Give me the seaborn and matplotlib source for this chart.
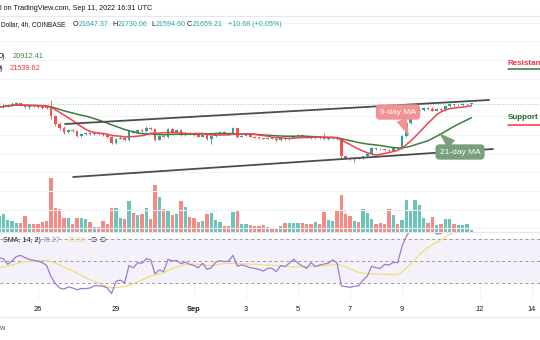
import numpy as np
import pandas as pd
import matplotlib
matplotlib.use("Agg")
import matplotlib.pyplot as plt
from matplotlib.lines import Line2D
from matplotlib import font_manager
import seaborn as sns

# ---------------- data ----------------
candle_start = "2022-08-24 12:00"
open_first = 21400.0
closes = [21480, 21560, 21600, 21650, 21700, 21600, 21480, 21560, 21520, 21480,
          21450, 21420, 21000, 20600, 20350, 20150, 20250, 20200, 19950, 20050,
          20100, 20050, 20080, 20020, 19980, 19900, 19550, 19800, 19850, 19720,
          20200, 20120, 20250, 20180, 20380, 20300, 19750, 19950, 19900, 20300,
          20150, 20250, 20000, 20100, 20050, 19980, 19900, 19980, 19800, 19950,
          20050, 20150, 20100, 20050, 20350, 19900, 19950, 19980, 19900, 19850,
          19820, 19800, 19840, 19800, 19720, 19820, 19780, 19850, 19950, 20000,
          19920, 19860, 19820, 19880, 19820, 19780, 19830, 19880, 19780, 18850,
          18780, 18720, 18760, 18740, 18850, 18980, 19300, 19250, 19220, 19180,
          19150, 19300, 19280, 19950, 20650, 21000, 21300, 21350, 21420, 21360,
          21300, 21380, 21320, 21550, 21640, 21580, 21610, 21630, 21647.37, 21659.21]
wick_up = [60, 80, 50, 120, 60, 40, 50, 40, 30, 50,
           40, 60, 420, 60, 80, 100, 80, 60, 70, 50,
           60, 40, 50, 40, 40, 50, 60, 40, 70, 50,
           60, 60, 50, 60, 70, 40, 60, 40, 60, 60,
           50, 40, 60, 40, 40, 30, 40, 40, 40, 40,
           40, 50, 40, 30, 90, 40, 40, 30, 40, 30,
           30, 30, 40, 30, 30, 50, 40, 40, 40, 50,
           30, 30, 30, 40, 30, 280, 40, 60, 40, 40,
           30, 30, 40, 30, 40, 50, 40, 40, 30, 40,
           40, 50, 40, 60, 60, 80, 60, 90, 60, 60,
           150, 40, 40, 40, 60, 30, 40, 50, 40, 70.85]
wick_down = [60, 40, 60, 50, 40, 60, 50, 80, 40, 40,
             40, 50, 150, 100, 100, 80, 60, 50, 80, 50,
             40, 40, 40, 40, 40, 50, 60, 40, 40, 50,
             60, 40, 40, 50, 40, 40, 80, 50, 40, 60,
             40, 40, 50, 40, 30, 30, 30, 40, 60, 300,
             40, 40, 40, 30, 40, 60, 40, 30, 30, 40,
             30, 30, 40, 30, 80, 40, 30, 40, 40, 30,
             40, 30, 30, 30, 30, 40, 40, 40, 40, 100,
             60, 80, 150, 40, 40, 40, 40, 40, 30, 50,
             60, 40, 40, 40, 40, 60, 50, 60, 50, 40,
             40, 40, 40, 40, 40, 40, 40, 40, 30, 52.77]
volumes = [3200, 3540, 2340, 2200, 1740, 1860, 3200, 1660, 1660, 1660,
           2000, 2200, 10740, 4740, 4540, 2740, 2860, 1660, 2860, 2860,
           2540, 2000, 1000, 1000, 2200, 1540, 4740, 4740, 2740, 2540,
           6200, 3740, 3340, 3660, 4740, 2660, 9340, 7000, 4660, 4200,
           3400, 3540, 6200, 5000, 3000, 2860, 2060, 2200, 3660, 3800,
           2460, 2060, 1200, 1200, 4000, 4200, 1660, 1660, 1340, 1200,
           1200, 1340, 1000, 860, 860, 1200, 1740, 1740, 1740, 1740,
           1860, 1540, 1540, 2000, 1660, 4060, 2340, 2200, 4340, 7400,
           3660, 3200, 2200, 2060, 4660, 3740, 2660, 1660, 1740, 1540,
           4540, 3340, 1540, 2340, 6340, 4340, 6340, 5340, 2860, 1860,
           3060, 1340, 1660, 2540, 2660, 1660, 1400, 1400, 1660, 400]
rsi_prior = [36, 37, 38, 36, 38, 44, 46, 48, 47, 45, 47, 48, 47]
rsi_values = [53, 52, 47, 50, 54, 55, 53, 51.5, 50.5, 50,
              48.5, 46, 36, 30, 26, 25, 27, 26, 24.5, 25.5,
              25.5, 26, 28, 28, 27.5, 26, 21, 32, 33, 30.5,
              46, 44, 48.5, 48, 52, 51, 38.5, 42, 40.5, 51.5,
              50, 50.5, 47.5, 49, 47, 46, 44, 48, 42.6, 44,
              49, 50.3, 49.5, 50, 55, 45.5, 46.5, 45.5, 44, 43.5,
              42.5, 41, 43.5, 43.5, 40.5, 46, 45, 48, 51.5, 48,
              45.5, 43.5, 48.5, 45, 46.5, 47.3, 48, 51, 48.5, 28,
              27.2, 26.6, 27.5, 27.8, 33, 36.6, 45.4, 44, 43.5, 47,
              46.4, 48.8, 48.5, 63, 72, 78, 84, 84, 85, 80,
              78, 74, 74.5, 80, 81, 76.5, 75.5, 77, 76.5, 76.27]
trend_upper_days = [1.04, 17.35]
trend_upper_prices = [20580, 21866]
trend_lower_days = [1.35, 17.50]
trend_lower_prices = [17741, 19241]
tick_days = [0, 3, 6, 8, 10, 12, 14, 17, 19]
tick_labels = ["26", "29", "Sep", "3", "5", "7", "9", "12", "14"]
ohlc_letters = ["O", "H", "L", "C"]
ohlc_values = ["21647.37", "21730.06", "21594.60", "21659.21"]
change_text = "+10.68 (+0.05%)"
ma21_last = "20912.41"
ma9_last = "21539.62"
rsi_last = "76.27"
rsi_ma_last = "76.88"

# ---------------- derived ----------------
t = pd.date_range(candle_start, periods=len(closes), freq="4h")
x = ((t - pd.Timestamp("2022-08-26")) / pd.Timedelta(days=1)).values.astype(float)
c = np.array(closes, dtype=float)
o = np.array([open_first] + closes[:-1], dtype=float)
hi = np.maximum(o, c) + np.array(wick_up)
lo = np.minimum(o, c) - np.array(wick_down)
up = c >= o
UP, DN = "#26a69a", "#ef5350"
col = np.where(up, UP, DN)
vcol = np.where(up, "#6cc3b9", "#f48a86")
s = pd.Series(c)
ma9 = s.rolling(9, min_periods=1).mean().values
ma21 = s.rolling(21, min_periods=1).mean().values
rsi_ma = pd.Series(rsi_prior + rsi_values).rolling(14).mean().values[len(rsi_prior):]

# ---------------- style ----------------
sns.set_theme(style="white")
names = {f.name for f in font_manager.fontManager.ttflist}
base = "Liberation Sans" if "Liberation Sans" in names else "DejaVu Sans"
plt.rcParams["font.family"] = [base, "DejaVu Sans"]

W, H = 540, 340
fig = plt.figure(figsize=(5.4, 3.4), dpi=100)
fig.patch.set_facecolor("white")

ax = fig.add_axes([0, 1 - 232 / H, 1, 216 / H])
axv = ax.twinx()
axv.set_zorder(0)
ax.set_zorder(1)
ax.patch.set_visible(False)
axr = fig.add_axes([0, 1 - 300 / H, 1, 68 / H])

XL = (-38 / 26, 502 / 26)
for a in (ax, axv, axr):
    a.set_xlim(XL)
    for sp in a.spines.values():
        sp.set_visible(False)
ax.set_ylim(14795, 26366)
axv.set_ylim(0, 43200)
axr.set_ylim(15.33, 75.78)

GRID = "#f0f3fa"
axv.set_xticks(tick_days)
axv.set_yticks([])
axv.xaxis.grid(True, color=GRID, lw=0.8)
ax.set_xticks(tick_days)
ax.set_yticks(range(15000, 27000, 1000))
ax.yaxis.grid(True, color=GRID, lw=0.8)
ax.xaxis.grid(False)
for a in (ax, axv):
    a.tick_params(length=0, labelleft=False, labelright=False, labelbottom=False)

# volume
axv.bar(x, volumes, width=0.125, color=vcol, linewidth=0)

# last price dotted line
ax.axhline(closes[-1], color=UP, lw=0.6, ls=(0, (1, 2)), alpha=0.7, zorder=1)

# candles
ax.vlines(x, lo, hi, colors=col, lw=0.6, zorder=2)
bh = np.maximum(np.abs(c - o), 45)
ax.bar(x, bh, bottom=np.minimum(o, c), width=0.108, color=col, linewidth=0, zorder=2.5)

# moving averages
sns.lineplot(x=x, y=ma21, ax=ax, color="#3b7d3f", lw=1.1, zorder=3, legend=False)
sns.lineplot(x=x, y=ma9, ax=ax, color="#f0424f", lw=1.1, zorder=3.1, legend=False)

# trend lines
sns.lineplot(x=trend_upper_days, y=trend_upper_prices, ax=ax, color="#4d4d4d", lw=1.3, zorder=4, legend=False)
sns.lineplot(x=trend_lower_days, y=trend_lower_prices, ax=ax, color="#4d4d4d", lw=1.3, zorder=4, legend=False)
ax.set_xlabel(""); ax.set_ylabel("")

# callouts
ax.annotate("9-day MA", xy=(409, H - 136), xycoords="figure pixels",
            xytext=(398, H - 112), textcoords="figure pixels",
            ha="center", va="center", fontsize=6, color="white", zorder=6,
            bbox=dict(boxstyle="round,pad=0.5", fc="#f29393", ec="none"),
            arrowprops=dict(arrowstyle="wedge,tail_width=1.3,shrink_factor=0.5",
                            fc="#f29393", ec="none", shrinkA=0, shrinkB=0))
ax.annotate("21-day MA", xy=(439, H - 133), xycoords="figure pixels",
            xytext=(460, H - 152), textcoords="figure pixels",
            ha="center", va="center", fontsize=6, color="white", zorder=6,
            bbox=dict(boxstyle="round,pad=0.5", fc="#7a9f7d", ec="none"),
            arrowprops=dict(arrowstyle="wedge,tail_width=1.3,shrink_factor=0.5",
                            fc="#7a9f7d", ec="none", shrinkA=0, shrinkB=0))

# RSI pane
axr.axhspan(30, 70, color="#7e57c2", alpha=0.08, lw=0, zorder=0)
for lvl in (70, 50, 30):
    axr.axhline(lvl, color="#9598a1", lw=0.7, ls=(0, (3, 3)), zorder=1)
sns.lineplot(x=x, y=rsi_ma, ax=axr, color="#f2df74", lw=0.9, zorder=2, legend=False)
sns.lineplot(x=x, y=np.array(rsi_values), ax=axr, color="#9a7bd6", lw=0.9, zorder=3, legend=False)
axr.set_xlabel(""); axr.set_ylabel("")
axr.set_xticks(tick_days)
axr.set_xticklabels(tick_labels, fontsize=5.3, color="#131722")
axr.get_xticklabels()[2].set_fontweight("bold")
axr.set_yticks([])
axr.xaxis.grid(True, color=GRID, lw=0.8)
axr.tick_params(length=0, pad=4, labelleft=False)

# separator lines
for yy, cc in ((16, "#e6e8ef"), (232, "#e6e8ef"), (317, "#e6e8ef")):
    fig.add_artist(Line2D([0, 1], [1 - yy / H] * 2, transform=fig.transFigure, color=cc, lw=0.8))


def ftext(px, py, s, color="#131722", size=5.3, **kw):
    fig.text(px / W, 1 - py / H, s, color=color, fontsize=size, va="center", **kw)


ftext(0, 9, "l on TradingView.com, Sep 11, 2022 16:31 UTC", size=5.2)
ftext(1, 25, "Dollar, 4h, COINBASE", size=4.7)
lx = [72.5, 112, 151, 187]
vx = [78.5, 118, 156, 193]
for L, V, a, b in zip(ohlc_letters, ohlc_values, lx, vx):
    ftext(a, 25, L, size=5.1)
    ftext(b, 25, V, color=UP, size=5.1)
ftext(228, 25, change_text, color=UP, size=5.1)
ftext(5.5, 57, "0)", ha="right")
ftext(13, 57, ma21_last, color="#43884a")
ftext(3.5, 68, "0)", ha="right")
ftext(9.5, 68, ma9_last, color="#f23645")
ftext(3, 241, "SMA, 14, 2)", size=5.1)
ftext(43, 241, rsi_last, color="#9a7bd6", size=5.1)
ftext(68, 241, rsi_ma_last, color="#e9d36a", size=5.1)
ftext(90, 241, "\u2205", size=5.1)
ftext(99, 241, "\u2205", size=5.1)
ftext(-1, 329, "w", color="#555555", size=5.3)

# resistance / support labels
ftext(508, 63.5, "Resistance", color="#f23645", size=5.8, fontweight="bold")
fig.add_artist(Line2D([508 / W, 1], [1 - 69 / H] * 2, transform=fig.transFigure, color="#2e7d32", lw=1.1))
ftext(508, 117.5, "Support", color="#1e6b24", size=5.8, fontweight="bold")
fig.add_artist(Line2D([508 / W, 1], [1 - 125 / H] * 2, transform=fig.transFigure, color="#f23645", lw=1.1))

fig.savefig("out.png", dpi=100)
